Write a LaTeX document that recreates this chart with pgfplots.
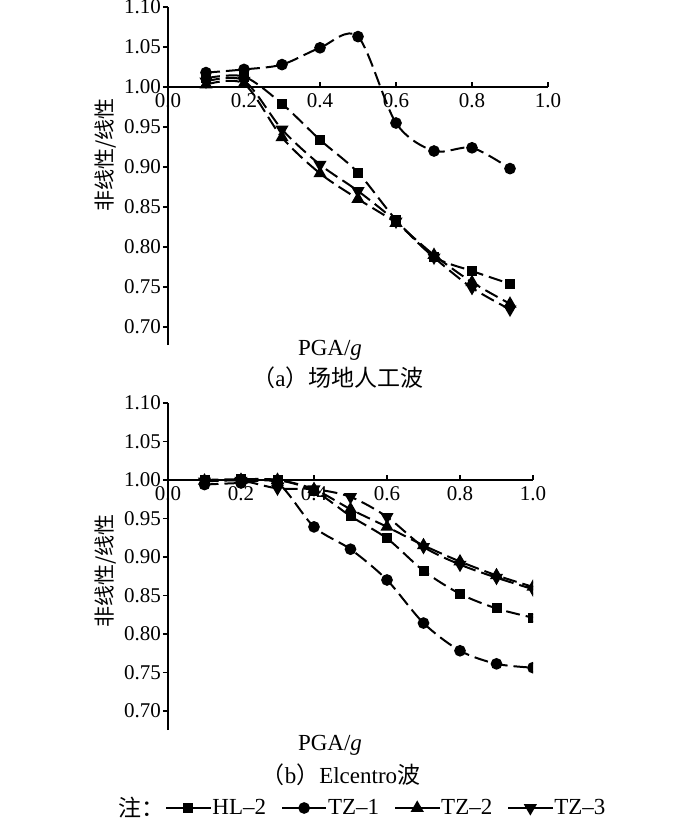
\documentclass[border=0pt]{standalone}
\usepackage{pgfplots}
\pgfplotsset{compat=1.18}
\usepackage{fontspec}
\setmainfont{Liberation Serif}
\newfontfamily\cjk{Noto Sans CJK SC}

\pgfplotsset{
  mystyle/.style={
    scale only axis,
    axis y line*=left,
    axis x line=none,
    xmin=0, xmax=1, ymax=1.10,
    ytick={0.70,0.75,0.80,0.85,0.90,0.95,1.00,1.05,1.10},
    yticklabel style={font=\fontsize{10.5}{12}\selectfont, inner sep=0.8pt,
      /pgf/number format/fixed, /pgf/number format/fixed zerofill, /pgf/number format/precision=2},
    /pgf/number format/assume math mode=true,
    tick align=outside,
    major tick length=2.5pt,
    tick style={black, line width=0.8pt},
    axis line style={line width=1pt},
    clip mode=individual,
    every axis plot/.append style={line width=1pt, dash pattern=on 7pt off 3pt, mark options={solid}, smooth, tension=0.5},
    legend image code/.code={\draw[mark repeat=2,mark phase=2,##1,solid] plot coordinates {(0pt,0pt) (11pt,0pt) (22pt,0pt)};},
  },
  hl/.style={black, mark=square*, mark size=2pt},
  tza/.style={black, mark=*, mark size=2.4pt},
  tzb/.style={black, mark=triangle*, mark size=2.8pt},
  tzc/.style={black, mark=triangle*, mark size=2.8pt, mark options={solid, rotate=180}},
}

\begin{document}
\begin{tikzpicture}
\path[use as bounding box] (0,0) rectangle (350pt,-410.5pt);

% ---------------- (a) ----------------
\begin{axis}[mystyle, at={(84pt,-172.5pt)}, anchor=south west,
  width=190pt, height=169pt, ymin=0.6775]
\addplot[hl] coordinates {(0.1,1.011)(0.2,1.013)(0.3,0.979)(0.4,0.934)(0.5,0.893)(0.6,0.834)(0.7,0.788)(0.8,0.770)(0.9,0.754)};
\addplot[tza] coordinates {(0.1,1.018)(0.2,1.022)(0.3,1.028)(0.4,1.049)(0.5,1.063)(0.6,0.955)(0.7,0.920)(0.8,0.924)(0.9,0.898)};
\addplot[tzb] coordinates {(0.1,1.003)(0.2,1.004)(0.3,0.937)(0.4,0.892)(0.5,0.860)(0.6,0.830)(0.7,0.790)(0.8,0.756)(0.9,0.729)};
\addplot[tzc] coordinates {(0.1,1.007)(0.2,1.008)(0.3,0.947)(0.4,0.903)(0.5,0.870)(0.6,0.832)(0.7,0.787)(0.8,0.749)(0.9,0.722)};
\draw[line width=1pt] (axis cs:0,1) -- (axis cs:1,1);
\pgfplotsinvokeforeach{0.0,0.2,0.4,0.6,0.8,1.0}{
  \draw[line width=0.8pt] (axis cs:#1,1) -- ([yshift=2.5pt]axis cs:#1,1);
  \node[anchor=north, inner sep=2pt, yshift=-1pt, font=\fontsize{10.5}{12}\selectfont] at (axis cs:#1,1) {#1};
}
\end{axis}

% ---------------- (b) ----------------
\begin{axis}[mystyle, at={(84pt,-365pt)}, anchor=south west,
  width=182.5pt, height=163.5pt, ymin=0.675, clip marker paths=true,
  legend columns=4,
  legend style={draw=none, fill=none, at={(-0.008,-0.2385)}, anchor=west,
    font=\fontsize{11.5}{13}\selectfont, inner sep=0pt,
    nodes={inner sep=0.5pt},
    /tikz/every even column/.append style={column sep=7pt}},
  legend cell align=left]
\addplot[hl] coordinates {(0.1,1.000)(0.2,1.001)(0.3,1.000)(0.4,0.986)(0.5,0.953)(0.6,0.924)(0.7,0.882)(0.8,0.852)(0.9,0.833)(1.0,0.821)};
\addlegendentry{HL–2}
\addplot[tza] coordinates {(0.1,0.994)(0.2,0.996)(0.3,0.996)(0.4,0.939)(0.5,0.910)(0.6,0.870)(0.7,0.814)(0.8,0.778)(0.9,0.761)(1.0,0.756)};
\addlegendentry{TZ–1}
\addplot[tzb] coordinates {(0.1,0.999)(0.2,1.000)(0.3,1.000)(0.4,0.988)(0.5,0.962)(0.6,0.939)(0.7,0.915)(0.8,0.894)(0.9,0.876)(1.0,0.861)};
\addlegendentry{TZ–2}
\addplot[tzc] coordinates {(0.1,0.998)(0.2,0.999)(0.3,0.989)(0.4,0.988)(0.5,0.978)(0.6,0.952)(0.7,0.913)(0.8,0.890)(0.9,0.873)(1.0,0.858)};
\addlegendentry{TZ–3}
\draw[line width=1pt] (axis cs:0,1) -- (axis cs:1,1);
\pgfplotsinvokeforeach{0.0,0.2,0.4,0.6,0.8,1.0}{
  \draw[line width=0.8pt] (axis cs:#1,1) -- ([yshift=2.5pt]axis cs:#1,1);
  \node[anchor=north, inner sep=2pt, yshift=-1pt, font=\fontsize{10.5}{12}\selectfont] at (axis cs:#1,1) {#1};
}
\end{axis}

% ---------------- texts ----------------
\node[rotate=90, font=\fontsize{10.5}{12}\selectfont] at (53pt,-77.5pt) {\cjk 非线性/线性};
\node[rotate=90, font=\fontsize{10.5}{12}\selectfont] at (53pt,-285.5pt) {\cjk 非线性/线性};
\node[font=\fontsize{11.5}{13}\selectfont] at (165pt,-175pt) {PGA/\textit{g}};
\node[font=\fontsize{11.5}{13}\selectfont] at (169pt,-189pt) {{\cjk （}a{\cjk ）场地人工波}};
\node[font=\fontsize{11.5}{13}\selectfont] at (165pt,-372.5pt) {PGA/\textit{g}};
\node[font=\fontsize{11.5}{13}\selectfont] at (170.5pt,-387.5pt) {{\cjk （}b{\cjk ）}Elcentro{\cjk 波}};
\node[anchor=west, inner sep=0pt, font=\fontsize{11.5}{13}\selectfont] at (59pt,-404pt) {{\cjk 注：}};
\end{tikzpicture}
\end{document}
